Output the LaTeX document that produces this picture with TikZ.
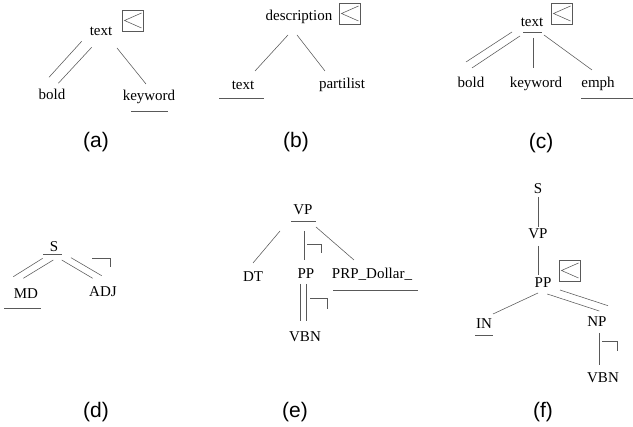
\documentclass[tikz,border=0pt]{standalone}
\usepackage{fontspec}
\setmainfont{Liberation Serif}
\newfontfamily\capfont{Liberation Sans}
\tikzset{
  lbl/.style={inner sep=0pt, font=\fontsize{15}{18}\selectfont},
  captxt/.style={inner sep=0pt, font=\capfont\fontsize{21}{25}\selectfont},
  ln/.style={draw=black!65, line width=0.55pt},
  pics/ltbox/.style={code={
    \draw[ln] (0,0) rectangle (21,21);
    \draw[ln] (19.5,3) -- (2.5,10.5) -- (19.5,18);
  }}
}
\begin{document}
\begin{tikzpicture}[x=1pt,y=-1pt]
\useasboundingbox (0,0) rectangle (633,427);
\fill[white] (0,0) rectangle (633,427);

% ---------------- (a)
\node[lbl] (ta) at (101,31) {text};
\node[lbl] (ba) at (52,94) {bold};
\node[lbl] (ka) at (149,97) {keyword};
\pic at (122,10) {ltbox};
\draw[ln] ([shift={(-19.3,10.3)}]ta.center) -- ([shift={(-3,-16.7)}]ba.center);
\draw[ln] ([shift={(-9.3,16.3)}]ta.center) -- ([shift={(6.3,-10.7)}]ba.center);
\draw[ln] ([shift={(16,17)}]ta.center) -- ([shift={(-3,-13)}]ka.center);
\draw[ln] (131,111) -- (168,111);
\node[captxt] (capa) at (96,142) {(a)};

% ---------------- (b)
\node[lbl] (db) at (299,17) {description};
\node[lbl] (tb) at (243,85) {text};
\node[lbl] (pb) at (342,85) {partilist};
\pic at (339,3) {ltbox};
\draw[ln] ([shift={(-11,18)}]db.center) -- ([shift={(12,-14)}]tb.center);
\draw[ln] ([shift={(-2,18)}]db.center) -- ([shift={(-17,-14)}]pb.center);
\draw[ln] (219,98) -- (264,98);
\node[captxt] (capb) at (296,142) {(b)};

% ---------------- (c)
\node[lbl] (tc) at (532,22) {text};
\node[lbl] (bc) at (471,82) {bold};
\node[lbl] (kc) at (536,84) {keyword};
\node[lbl] (ec) at (598,84) {emph};
\pic at (551,3) {ltbox};
\draw[ln] (523,32) -- (542,32);
\draw[ln] ([shift={(-20,10)}]tc.center) -- ([shift={(-5,-20)}]bc.center);
\draw[ln] ([shift={(-12,14)}]tc.center) -- ([shift={(1,-14)}]bc.center);
\draw[ln] ([shift={(1,16)}]tc.center) -- ([shift={(-3,-16)}]kc.center);
\draw[ln] ([shift={(12,13)}]tc.center) -- ([shift={(-6,-14)}]ec.center);
\draw[ln] (581,98) -- (633,98);
\node[captxt] (capc) at (541,143) {(c)};

% ---------------- (d)
\node[lbl] (sd) at (54,247) {S};
\node[lbl] (md) at (26,294) {MD};
\node[lbl] (ad) at (103,292) {ADJ};
\draw[ln] (43,254) -- (62,254);
\draw[ln] ([shift={(-11.3,11.3)}]sd.center) -- ([shift={(-12.7,-17.3)}]md.center);
\draw[ln] ([shift={(-0.7,13)}]sd.center) -- ([shift={(-2.7,-15.7)}]md.center);
\draw[ln] ([shift={(7.7,13)}]sd.center) -- ([shift={(-10.3,-13.7)}]ad.center);
\draw[ln] ([shift={(17,10.7)}]sd.center) -- ([shift={(-1.3,-16.3)}]ad.center);
\draw[ln] (92.3,258.3) -- (110,258.3) -- (110,266.7);
\draw[ln] (4,308) -- (41,308);
\node[captxt] (capd) at (96,412) {(d)};

% ---------------- (e)
\node[lbl] (vpe) at (303,210) {VP};
\node[lbl] (dte) at (253,277) {DT};
\node[lbl] (ppe) at (306,274) {PP};
\node[lbl] (prpe) at (372,274) {PRP\_Dollar\_};
\node[lbl] (vbne) at (305,337) {VBN};
\draw[ln] (291,221) -- (316,221);
\draw[ln] ([shift={(-23,21)}]vpe.center) -- ([shift={(0,-14)}]dte.center);
\draw[ln] ([shift={(1,21)}]vpe.center) -- ([shift={(-2,-14)}]ppe.center);
\draw[ln] ([shift={(13,17)}]vpe.center) -- ([shift={(-18,-14)}]prpe.center);
\draw[ln] (307,244) -- (321,244) -- (321,253);
\draw[ln] (333,290) -- (418,290);
\draw[ln] ([shift={(-5.3,10)}]ppe.center) -- ([shift={(-4.3,-16)}]vbne.center);
\draw[ln] ([shift={(0,10)}]ppe.center) -- ([shift={(1,-16)}]vbne.center);
\draw[ln] (310,298) -- (327,298) -- (327,309);
\node[captxt] (cape) at (295,412) {(e)};

% ---------------- (f)
\node[lbl] (sf) at (538,189) {S};
\node[lbl] (vpf) at (538,234) {VP};
\node[lbl] (ppf) at (543,283) {PP};
\node[lbl] (inf) at (484,324) {IN};
\node[lbl] (npf) at (597,322) {NP};
\node[lbl] (vbnf) at (603,378) {VBN};
\pic at (559,260) {ltbox};
\draw[ln] ([shift={(0,8)}]sf.center) -- ([shift={(0,-7)}]vpf.center);
\draw[ln] ([shift={(0,12)}]vpf.center) -- ([shift={(-5,-8)}]ppf.center);
\draw[ln] ([shift={(-5,10)}]ppf.center) -- ([shift={(9,-10)}]inf.center);
\draw[ln] (475,335) -- (493,335);
\draw[ln] ([shift={(17,7)}]ppf.center) -- ([shift={(11,-16.3)}]npf.center);
\draw[ln] ([shift={(4.3,11)}]ppf.center) -- ([shift={(2.3,-11)}]npf.center);
\draw[ln] ([shift={(2,11)}]npf.center) -- ([shift={(-4,-13)}]vbnf.center);
\draw[ln] (602,341) -- (617,341) -- (617,351);
\node[captxt] (capf) at (543,412) {(f)};
\end{tikzpicture}
\end{document}
